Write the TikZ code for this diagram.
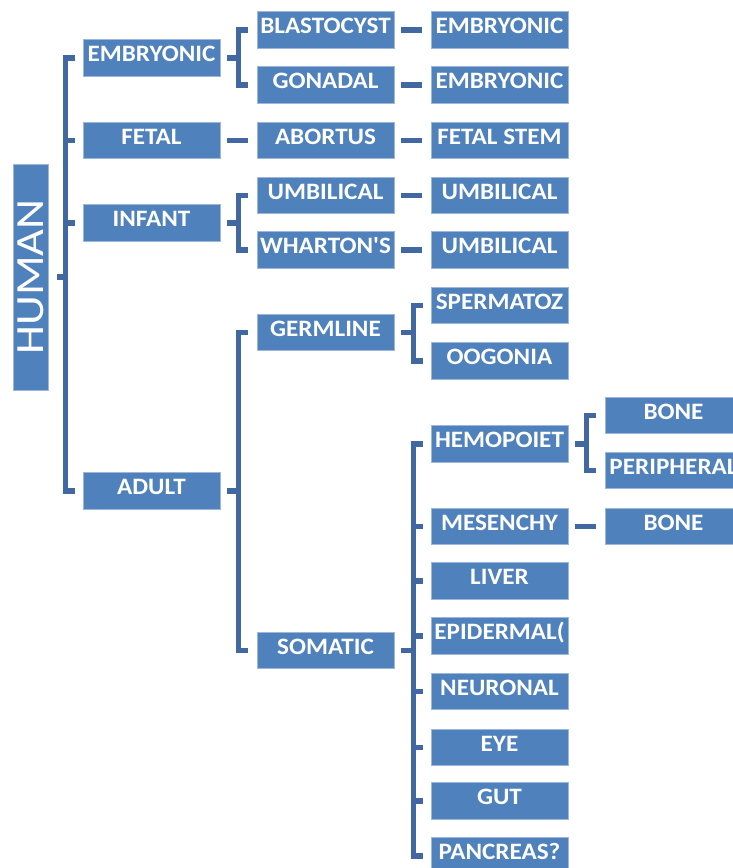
\documentclass[tikz,border=0pt]{standalone}
\usepackage{fontspec}
\newfontfamily\boxfont{Carlito}[FakeStretch=1.07]
\newfontfamily\rootfont{Carlito}
\usepackage{graphicx}
\definecolor{boxblue}{HTML}{4F81BD}
\definecolor{boxedge}{HTML}{9DB6D9}
\definecolor{linkblue}{HTML}{4168A0}
\begin{document}
\begin{tikzpicture}[x=1pt,y=-1pt,
  box/.style={rectangle, fill=boxblue, draw=boxedge, line width=0.8pt,
    minimum width=137pt, minimum height=36.5pt, inner xsep=0pt, inner ysep=0pt,
    text height=22pt, text depth=14.5pt, text=white,
    font=\boxfont\bfseries\fontsize{23.5}{23.5}\selectfont},
  link/.style={draw=linkblue, line width=5.5pt, line join=miter, line cap=butt},
]
\useasboundingbox (0,0) rectangle (733,868);
% root
\node[rectangle, fill=boxblue, draw=boxedge, line width=0.8pt, rotate=90,
  minimum width=226pt, minimum height=35pt, inner sep=0pt, text=white,
  font=\rootfont\fontsize{40}{40}\selectfont] (human) at (30.5,277) {\scalebox{1.16}[1]{HUMAN}};
% level 1
\node[box] (emb) at (151.5,58) {EMBRYONIC};
\node[box] (fet) at (151.5,140.5) {FETAL};
\node[box] (inf) at (151.5,223) {INFANT};
\node[box] (adu) at (151.5,491) {ADULT};
% level 2
\node[box] (bla) at (325.5,30) {BLASTOCYST};
\node[box] (gon) at (325.5,85) {GONADAL};
\node[box] (abo) at (325.5,140.5) {ABORTUS};
\node[box] (umb) at (325.5,195.5) {UMBILICAL};
\node[box] (wha) at (325.5,250) {WHARTON'S};
\node[box] (ger) at (325.5,332.5) {GERMLINE};
\node[box] (som) at (325.5,650.5) {SOMATIC};
% level 3
\node[box] (emba) at (499.5,30) {EMBRYONIC};
\node[box] (embb) at (499.5,85) {EMBRYONIC};
\node[box] (fst) at (499.5,140.5) {FETAL STEM};
\node[box] (umba) at (499.5,195.5) {UMBILICAL};
\node[box] (umbb) at (499.5,250) {UMBILICAL};
\node[box] (spe) at (499.5,305.5) {SPERMATOZ};
\node[box] (oog) at (499.5,361) {OOGONIA};
\node[box] (hem) at (499.5,444) {HEMOPOIET};
\node[box] (mes) at (499.5,526.5) {MESENCHY};
\node[box] (liv) at (499.5,581) {LIVER};
\node[box] (epi) at (499.5,636) {EPIDERMAL(};
\node[box] (neu) at (499.5,691.5) {NEURONAL};
\node[box] (eye) at (499.5,747.5) {EYE};
\node[box] (gut) at (499.5,801) {GUT};
\node[box] (pan) at (499.5,856) {PANCREAS?};
% level 4
\node[box] (bona) at (673.5,415.5) {BONE};
\node[box] (per) at (673.5,470.5) {PERIPHERAL};
\node[box] (bonb) at (673.5,526.5) {BONE};

% main bracket
\coordinate (s0) at ([xshift=17pt]human.south);
\draw[link] ([xshift=9pt]human.south) -- (s0);
\draw[link] ([xshift=-8pt]emb.west) -| (s0) |- ([xshift=-8pt]adu.west);
\draw[link] (s0 |- fet) -- ([xshift=-8pt]fet.west);
\draw[link] (s0 |- inf) -- ([xshift=-8pt]inf.west);

% embryonic bracket
\coordinate (s1) at ([xshift=18pt]emb.east);
\draw[link] ([xshift=7pt]emb.east) -- (s1);
\draw[link] ([xshift=-9pt]bla.west) -| (s1) |- ([xshift=-9pt]gon.west);
% fetal
\draw[link] ([xshift=7pt]fet.east) -- ([xshift=-9pt]abo.west);
% infant bracket
\coordinate (s2) at ([xshift=18pt]inf.east);
\draw[link] ([xshift=7pt]inf.east) -- (s2);
\draw[link] ([xshift=-9pt]umb.west) -| (s2) |- ([xshift=-9pt]wha.west);
% adult bracket
\coordinate (s3) at ([xshift=18pt]adu.east);
\draw[link] ([xshift=7pt]adu.east) -- (s3);
\draw[link] ([xshift=-9pt]ger.west) -| (s3) |- ([xshift=-9pt]som.west);

% level 2 -> 3 single links
\draw[link] ([xshift=7pt]bla.east) -- ([xshift=-9pt]emba.west);
\draw[link] ([xshift=7pt]gon.east) -- ([xshift=-9pt]embb.west);
\draw[link] ([xshift=7pt]abo.east) -- ([xshift=-9pt]fst.west);
\draw[link] ([xshift=7pt]umb.east) -- ([xshift=-9pt]umba.west);
\draw[link] ([xshift=7pt]wha.east) -- ([xshift=-9pt]umbb.west);

% germline bracket
\coordinate (s4) at ([xshift=19pt]ger.east);
\draw[link] ([xshift=7pt]ger.east) -- (s4);
\draw[link] ([xshift=-8pt]spe.west) -| (s4) |- ([xshift=-8pt]oog.west);

% somatic bracket
\coordinate (s5) at ([xshift=19pt]som.east);
\draw[link] ([xshift=7pt]som.east) -- (s5);
\draw[link] ([xshift=-8pt]hem.west) -| (s5) |- ([xshift=-8pt]pan.west);
\foreach \c in {mes,liv,epi,neu,eye,gut}
  \draw[link] (s5 |- \c) -- ([xshift=-8pt]\c.west);

% hemopoietic bracket
\coordinate (s6) at ([xshift=18pt]hem.east);
\draw[link] ([xshift=7pt]hem.east) -- (s6);
\draw[link] ([xshift=-9pt]bona.west) -| (s6) |- ([xshift=-9pt]per.west);
% mesenchymal
\draw[link] ([xshift=7pt]mes.east) -- ([xshift=-9pt]bonb.west);
\end{tikzpicture}
\end{document}
